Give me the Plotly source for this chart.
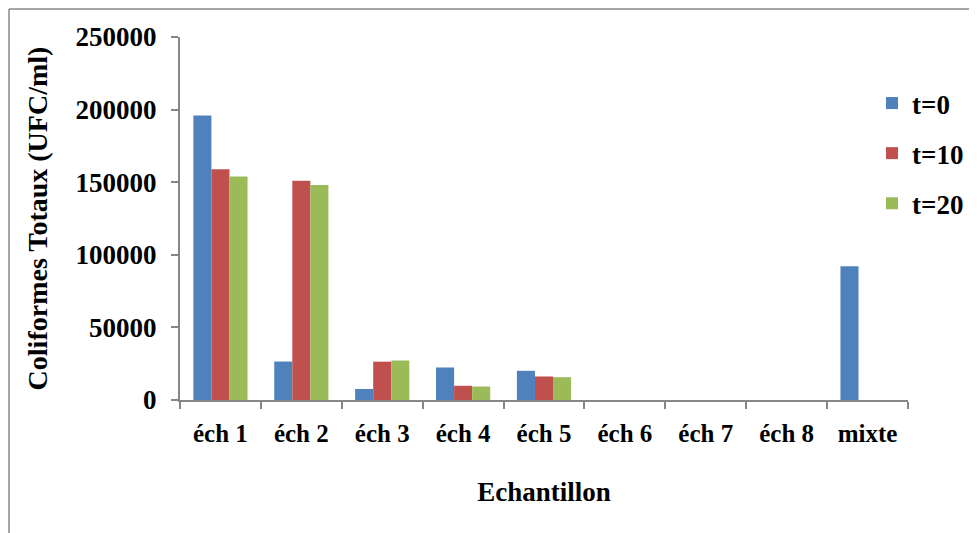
import plotly.graph_objects as go

categories = ["éch 1", "éch 2", "éch 3", "éch 4", "éch 5", "éch 6", "éch 7", "éch 8", "mixte"]
t0 = [196000, 26500, 7600, 22400, 20100, 0, 0, 0, 92200]
t10 = [159000, 151000, 26400, 9800, 16200, 0, 0, 0, 0]
t20 = [154000, 148000, 27200, 9300, 15700, 0, 0, 0, 0]
series_names = ["t=0", "t=10", "t=20"]
colors = ["#4F81BD", "#C0504D", "#9BBB59"]
y_ticks = [0, 50000, 100000, 150000, 200000, 250000]

FONT = "Liberation Serif, Times New Roman, serif"
W, H = 969, 525
L, T, PW, PH = 172, 29, 728, 363

fig = go.Figure()
for name, vals, col in zip(series_names, [t0, t10, t20], colors):
    fig.add_trace(go.Bar(x=categories, y=vals, name="<b>" + name + "</b>", legendgroup=name,
                         marker=dict(color=col, line=dict(width=0))))

fig.update_layout(
    width=W, height=H,
    margin=dict(l=L, r=W - L - PW, t=T, b=H - T - PH, autoexpand=False),
    paper_bgcolor="white", plot_bgcolor="white",
    barmode="group", bargap=0.33, bargroupgap=0,
    font=dict(family=FONT, size=25, color="black"),
    legend=dict(xref="container", yref="container", x=864 / W, xanchor="left",
                y=1 - 71 / H, yanchor="top",
                font=dict(family=FONT, size=27, color="black"),
                traceorder="grouped", tracegroupgap=12,
                itemwidth=30, bgcolor="rgba(0,0,0,0)"),
    showlegend=True,
)
fig.update_xaxes(
    type="category", showline=True, linecolor="#868686", linewidth=2,
    ticks="outside", tickson="boundaries", ticklen=7, tickcolor="#868686", tickwidth=2,
    ticklabelstandoff=10,
    tickfont=dict(family=FONT, size=25, color="black", weight="bold"),
    title=dict(text="<b>Echantillon</b>", font=dict(family=FONT, size=27), standoff=36),
    showgrid=False, automargin=False,
)
fig.update_yaxes(
    range=[0, 250000], tickvals=y_ticks, ticktext=[str(v) for v in y_ticks],
    showline=True, linecolor="#868686", linewidth=2,
    ticks="outside", ticklen=7, tickcolor="#868686", tickwidth=2,
    ticklabelstandoff=9,
    tickfont=dict(family=FONT, size=27, color="black", weight="bold"),
    title=dict(text="<b>Coliformes Totaux (UFC/ml)</b>", font=dict(family=FONT, size=28), standoff=20),
    showgrid=False, zeroline=False, automargin=False,
)
fig.add_shape(type="line", xref="paper", yref="paper", x0=(1 - L) / PW, x1=(W - L) / PW,
              y0=1 + (T - 1) / PH, y1=1 + (T - 1) / PH, line=dict(color="#888888", width=1.5))
fig.add_shape(type="line", xref="paper", yref="paper", x0=(1 - L) / PW, x1=(1 - L) / PW,
              y0=1 + (T - 1) / PH, y1=-(H - T - PH) / PH, line=dict(color="#888888", width=1.5))

fig.write_html("out.html")
